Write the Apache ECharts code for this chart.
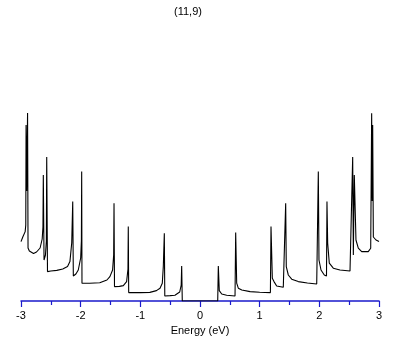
<!DOCTYPE html>
<html>
<head>
<meta charset="utf-8">
<script src="https://cdn.jsdelivr.net/npm/echarts@6/dist/echarts.min.js"></script>
<style>html,body{margin:0;padding:0;background:#fff}#c{width:409px;height:345px}</style>
</head>
<body>
<div id="c"></div>
<script>
var titleText = "(11,9)";
var xName = "Energy (eV)";
var xTicks = [-3, -2, -1, 0, 1, 2, 3];
var energy = [
-3.00,-2.97,-2.93,-2.92,-2.915,-2.905,-2.89,-2.882,-2.86,-2.83,-2.79,-2.74,-2.68,-2.645,-2.632,-2.626,-2.614,-2.59,-2.575,-2.569,-2.556,
-2.5,-2.4,-2.3,-2.22,-2.18,-2.15,-2.133,-2.123,-2.08,-2.04,-2.0,-1.988,-1.983,-1.978,-1.85,-1.68,-1.56,-1.51,-1.465,-1.447,-1.441,-1.433,
-1.35,-1.285,-1.23,-1.207,-1.202,-1.195,-1.0,-0.84,-0.73,-0.67,-0.632,-0.615,-0.598,-0.59,-0.5,-0.42,-0.34,-0.315,-0.307,-0.297,
0.297,0.307,0.323,0.364,0.447,0.587,0.598,0.615,0.642,0.70,0.84,1.0,1.18,1.19,1.212,1.24,1.285,1.396,1.436,1.446,1.48,1.537,1.647,
1.8,1.956,1.983,1.994,2.028,2.083,2.12,2.128,2.14,2.167,2.234,2.346,2.514,2.545,2.559,2.57,2.586,2.614,2.653,2.71,2.82,2.861,2.877,
2.886,2.894,2.905,2.95,3.0
];
var dos = [
2.97,3.2,3.47,3.8,8.8,5.5,9.4,2.65,2.5,2.42,2.38,2.45,2.65,3.1,3.7,6.3,2.05,2.3,3.0,7.2,1.47,
1.5,1.53,1.6,1.72,1.97,2.9,4.97,1.25,1.35,1.55,2.15,3.0,6.47,0.89,0.89,0.91,1.05,1.22,1.55,2.3,4.89,0.72,
0.73,0.77,0.97,1.6,3.72,0.42,0.42,0.43,0.52,0.64,0.89,1.72,3.39,0.25,0.27,0.29,0.45,0.8,1.75,0,
0,1.75,0.52,0.35,0.29,0.25,3.42,0.89,0.64,0.55,0.47,0.44,0.42,3.72,1.14,0.97,0.75,0.69,4.89,1.72,1.3,1.09,0.97,
0.9,0.85,6.47,2.05,1.55,1.3,1.25,4.97,2.89,1.89,1.64,1.55,1.5,1.6,7.2,2.3,6.3,3.05,2.64,2.47,2.47,2.64,9.39,
5.0,8.8,3.2,3.05,2.97
];
var data = energy.map(function (e, i) { return [e, dos[i]]; });
var chart = echarts.init(document.getElementById('c'), null, {renderer: 'canvas'});
chart.setOption({
  animation: false,
  backgroundColor: '#ffffff',
  title: {
    text: titleText, left: 183, top: 1, textAlign: 'center',
    textStyle: {fontFamily: 'Liberation Sans', fontSize: 11, fontWeight: 'normal', color: '#000'}
  },
  grid: {left: 21, right: 30, top: 101, bottom: 44},
  xAxis: {
    type: 'value', min: xTicks[0], max: xTicks[xTicks.length - 1], interval: 1,
    name: xName, nameLocation: 'middle', nameGap: 24,
    nameTextStyle: {fontFamily: 'Liberation Sans', fontSize: 11, color: '#000'},
    axisLine: {show: true, onZero: false, lineStyle: {color: '#1a1acc', width: 1.5}},
    axisTick: {show: true, inside: false, length: 6, lineStyle: {color: '#1a1acc', width: 1.2}},
    minorTick: {show: true, splitNumber: 2, length: 4, lineStyle: {color: '#1a1acc', width: 1.2}},
    splitLine: {show: false},
    axisLabel: {margin: 9, fontFamily: 'Liberation Sans', fontSize: 11, color: '#000'}
  },
  yAxis: {type: 'value', min: 0, max: 10, show: false, splitLine: {show: false}},
  series: [{
    type: 'line', data: data, showSymbol: false, symbol: 'none',
    lineStyle: {color: '#000', width: 1.1}, z: 5
  }]
});
</script>
</body>
</html>
